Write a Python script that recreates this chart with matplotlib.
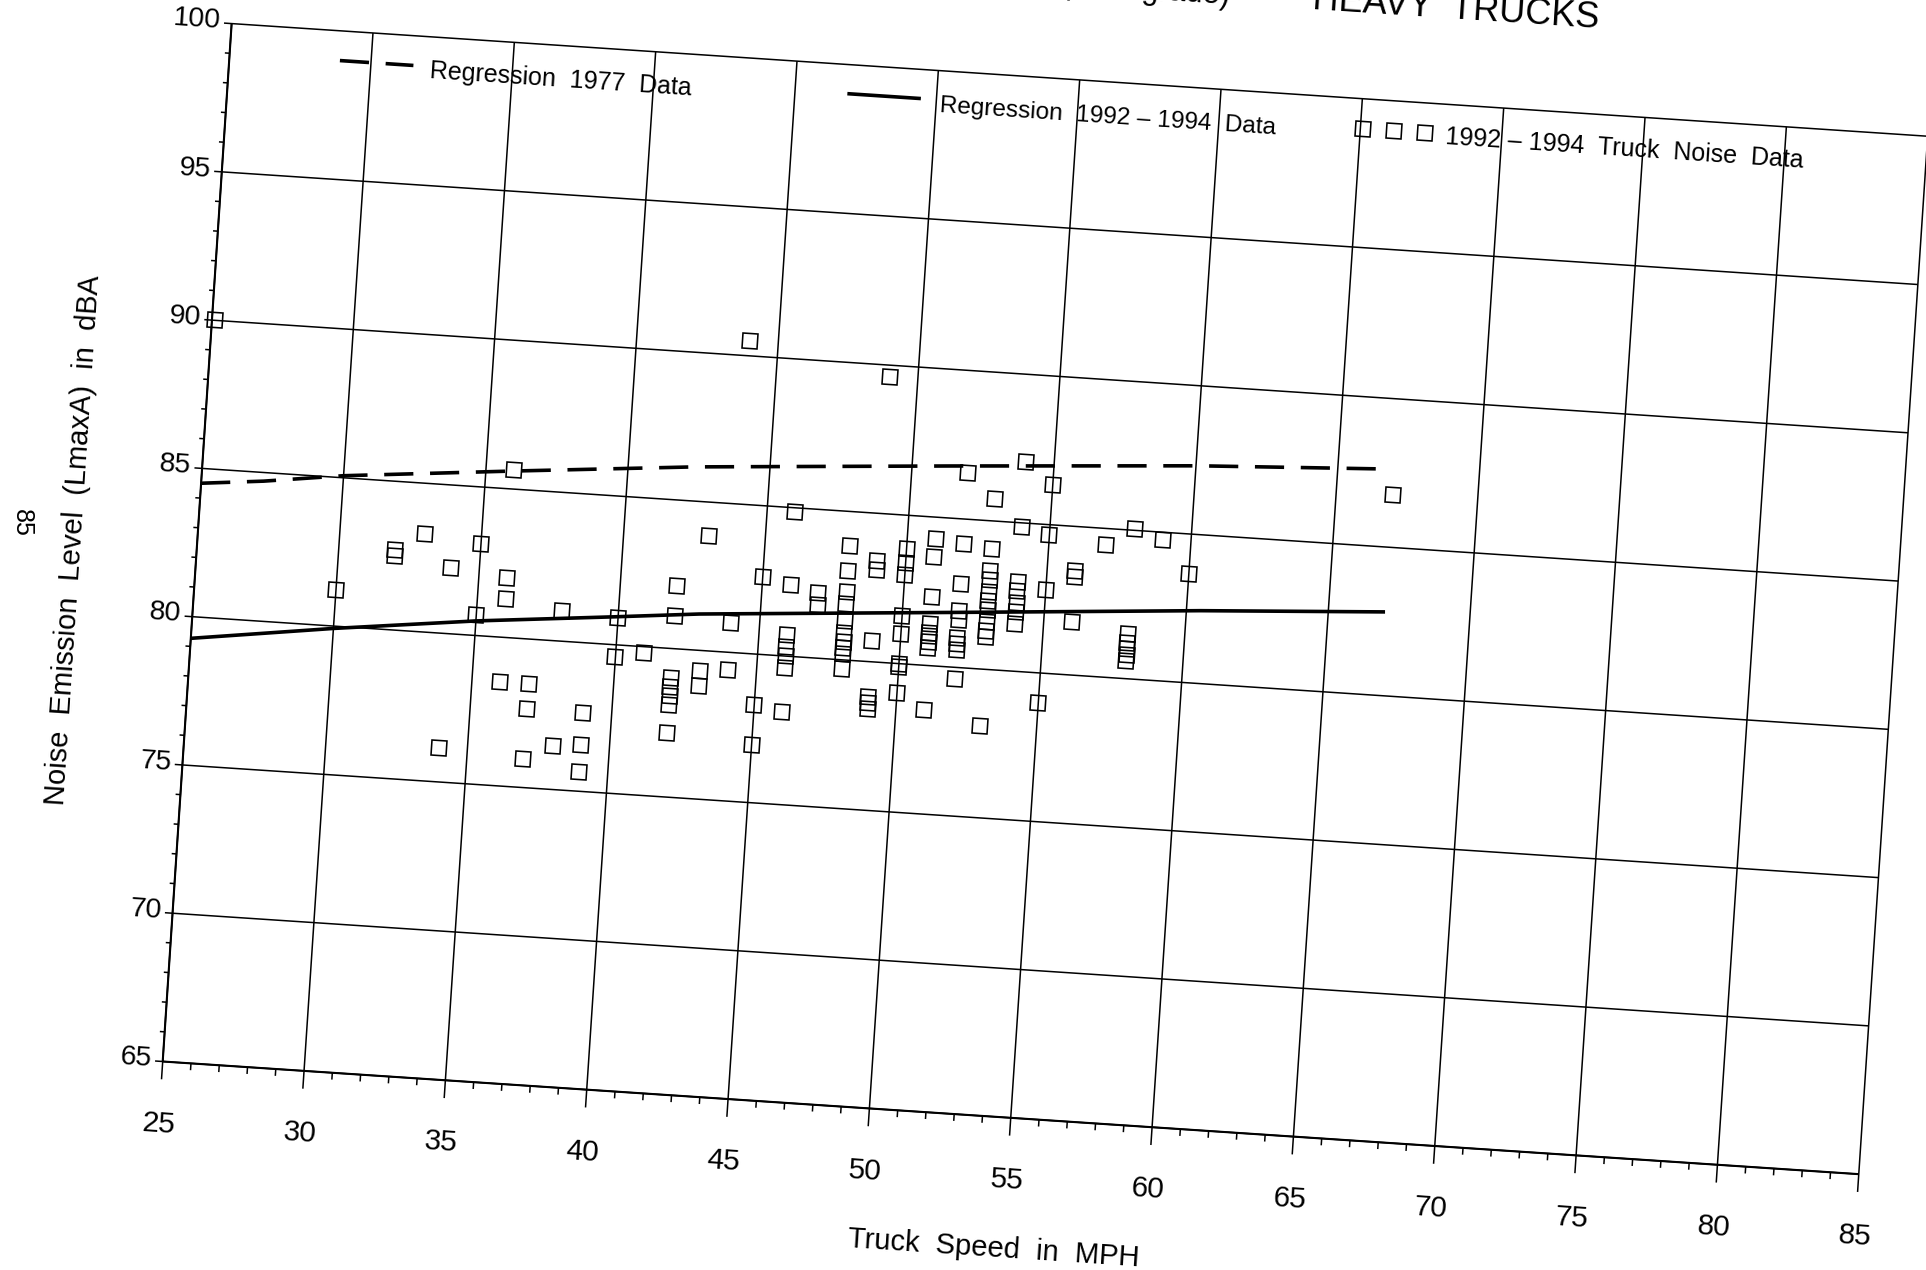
import matplotlib.pyplot as plt
from matplotlib.transforms import Affine2D
from matplotlib.markers import MarkerStyle

plt.rcParams['font.family'] = ['Liberation Sans', 'DejaVu Sans']
plt.rcParams['lines.scale_dashes'] = False

# 1992-1994 truck noise data: speed (mph) and Lmax (dBA)
speed = [25.1, 30, 32, 32, 33, 34, 34, 35, 35, 36, 36, 36, 36, 37, 37, 37, 38, 38, 39, 39,
         39, 40, 40, 41, 42, 42, 42, 42, 42, 42, 42, 43, 43, 43, 44, 44, 44, 45, 45, 45,
         46, 46, 46, 46, 46, 46, 46, 47, 47, 48, 48, 48, 48, 48, 48, 48, 48, 48, 48, 49,
         49, 49, 49, 49, 49, 49, 50, 50, 50, 50, 50, 50, 50, 50, 51, 51, 51, 51, 51, 51,
         51, 51, 51, 52, 52, 52, 52, 52, 52, 52, 52, 52, 53, 53, 53, 53, 53, 53, 53, 53,
         53, 53, 53, 54, 54, 54, 54, 54, 54, 54, 55, 55, 55, 55, 56, 56, 56, 57, 58, 58,
         58, 58, 58, 58, 59, 60, 67]
level = [90.0, 81.2, 82.7, 82.5, 83.3, 82.2, 76.15, 83.1, 80.7, 85.65, 82.0, 81.3, 78.5, 78.5, 77.65, 75.95, 81.0, 76.45, 77.65, 76.55,
         75.65, 80.9, 79.6, 79.8, 82.1, 81.1, 79.0, 78.7, 78.4, 78.1, 77.15, 83.85, 79.3, 78.8, 90.5, 81.0, 79.4, 82.6, 78.3, 76.95,
         84.85, 82.4, 80.7, 80.3, 80.0, 79.6, 78.1, 82.2, 81.8, 83.85, 83.0, 82.3, 81.9, 81.3, 80.9, 80.6, 80.4, 80.2, 79.7, 89.6,
         83.4, 83.1, 80.7, 78.8, 78.6, 78.4, 83.85, 83.4, 83.0, 81.6, 81.0, 80.0, 79.9, 79.0, 84.25, 83.65, 82.3, 81.4, 81.1, 81.0,
         80.8, 80.6, 78.5, 86.55, 84.15, 82.8, 81.9, 81.6, 81.0, 80.8, 80.6, 79.6, 85.75, 84.05, 83.3, 83.0, 82.6, 82.3, 82.0, 81.6,
         81.3, 81.1, 78.1, 87.05, 84.85, 83.0, 82.7, 82.3, 82.0, 81.6, 86.35, 84.65, 82.8, 79.0, 83.5, 83.3, 81.8, 84.45, 85.05, 81.5,
         81.2, 81.0, 80.8, 80.6, 84.75, 83.65, 86.75]

# regression curves
reg77_speed = [25, 27.2, 30, 35.9, 42.35, 51.35, 60.1, 66.7]
reg77_level = [84.50, 84.71, 85.07, 85.60, 86.15, 86.75, 87.31, 87.62]
reg92_speed = [25, 30, 35, 39.9, 42.85, 51.65, 60.5, 67.0]
reg92_level = [79.27, 79.92, 80.49, 80.94, 81.22, 81.83, 82.45, 82.82]

x_ticks = list(range(25, 90, 5))
y_ticks = list(range(65, 105, 5))

# the scanned page sits turned a little clockwise
tilt = -3.8

W, H = 1926, 1270
fig = plt.figure(figsize=(W / 100, H / 100), dpi=100)
ox, oy = 162.7, H - 1061.5        # pixel spot of (25, 65)
ax = fig.add_axes([ox / W, oy / H, 60 * 28.33 / W, 35 * 29.72 / H])
ax.set_xlim(25, 85)
ax.set_ylim(65, 100)
ax.axis('off')
T = ax.transData + Affine2D().rotate_deg_around(ox, oy, tilt)

kw = dict(color='black', transform=T, clip_on=False, solid_capstyle='butt')

# grid (also frames the plot) plus major ticks sticking out
for x in x_ticks:
    ax.plot([x, x], [64.4, 100], lw=1.1, **kw)
for y in y_ticks:
    ax.plot([24.73, 85], [y, y], lw=1.1, **kw)
ax.plot([25, 25], [65, 100], lw=1.5, **kw)
ax.plot([25, 85], [65, 65], lw=1.5, **kw)

# minor ticks every 1 unit
for x in range(26, 85):
    if x % 5:
        ax.plot([x, x], [65, 64.77], lw=1.1, **kw)
for y in range(66, 100):
    if y % 5:
        ax.plot([24.83, 25], [y, y], lw=1.1, **kw)

for x in x_ticks:
    ax.text(x, 62.9, str(x), fontsize=21.5, ha='center', va='center',
            rotation=tilt, rotation_mode='anchor', transform=T)
for y in y_ticks:
    ax.text(24.6, y + 0.05, str(y), fontsize=20.5, ha='right', va='center',
            rotation=tilt, rotation_mode='anchor', transform=T)

ax.text(54.7, 60.57, 'Truck  Speed  in  MPH', fontsize=21, ha='center', va='center',
        rotation=tilt, rotation_mode='anchor', transform=T)
ax.text(20.65, 82.3, 'Noise  Emission  Level  (LmaxA)  in  dBA', fontsize=21, ha='center',
        va='center', rotation=90 + tilt, rotation_mode='anchor', transform=T)

# data and regressions
sq = MarkerStyle('s', transform=Affine2D().rotate_deg(tilt))
ax.plot(speed, level, ls='none', marker=sq, ms=11.5, mfc='none', mec='black', mew=1.15,
        transform=T, clip_on=False)
ax.plot(reg77_speed, reg77_level, lw=2.6, dashes=(21, 12), **kw)
ax.plot(reg92_speed, reg92_level, lw=2.6, **kw)

# legend along the top edge
ax.plot([28.9, 31.5], [99.0, 99.0], lw=2.6, dashes=(21, 12), **kw)
ax.text(32.1, 98.6, 'Regression  1977  Data', fontsize=18, ha='left', va='baseline',
        rotation=tilt, rotation_mode='anchor', transform=T)
ax.plot([46.85, 49.45], [99.02, 99.02], lw=2.6, **kw)
ax.text(50.15, 98.6, 'Regression  1992 – 1994  Data', fontsize=17.6, ha='left', va='baseline',
        rotation=tilt, rotation_mode='anchor', transform=T)
ax.plot([65.1, 66.2, 67.3], [99.0, 99.0, 99.0], ls='none', marker=sq, ms=11.5, mfc='none',
        mec='black', mew=1.15, transform=T, clip_on=False)
ax.text(68.0, 98.66, '1992 – 1994  Truck  Noise  Data', fontsize=18, ha='left', va='baseline',
        rotation=tilt, rotation_mode='anchor', transform=T)

# title, cut off by the top of the scan
ax.text(60.1, 102.86, '(level grade)', fontsize=22, ha='right', va='baseline',
        rotation=tilt, rotation_mode='anchor', transform=T)
ax.text(63.0, 102.9, 'HEAVY  TRUCKS', fontsize=26, ha='left', va='baseline',
        rotation=tilt, rotation_mode='anchor', transform=T)

# page number in the margin
fig.text(22 / W, 1 - 523 / H, '85', fontsize=18, rotation=-90, ha='center', va='center')

fig.savefig('out.png', dpi=100, facecolor='white')
